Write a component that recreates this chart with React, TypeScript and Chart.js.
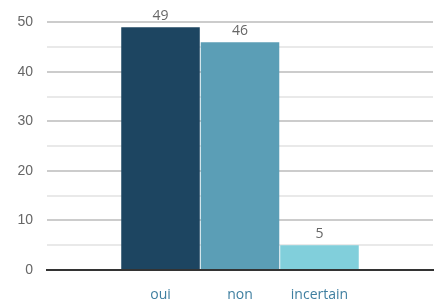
import React, { useEffect, useRef } from "react";
import { Chart, registerables } from "chart.js";

Chart.register(...registerables);

const categories = ["oui", "non", "incertain"];
const values = [49, 46, 5];
const barColors = ["#1d4561", "#5b9eb6", "#81cfdb"];
const yTicks = [0, 10, 20, 30, 40, 50];

const valueLabels = {
  id: "valueLabels",
  afterDatasetsDraw(chart: any) {
    const ctx = chart.ctx;
    const meta = chart.getDatasetMeta(0);
    ctx.save();
    ctx.font = "14px 'Open Sans'";
    ctx.fillStyle = "#666666";
    ctx.textAlign = "center";
    ctx.textBaseline = "bottom";
    meta.data.forEach((bar: any, i: number) => {
      ctx.fillText(String(values[i]), bar.x, bar.y - 4);
    });
    ctx.restore();
  },
};

export default function App() {
  const ref = useRef<HTMLCanvasElement | null>(null);
  useEffect(() => {
    if (!ref.current) return;
    const chart = new Chart(ref.current, {
      type: "bar",
      data: {
        datasets: [
          {
            data: values.map((v, i) => ({ x: i + 1, y: v })),
            backgroundColor: barColors,
            borderWidth: 0,
            categoryPercentage: 1,
            barPercentage: 0.988,
          },
        ],
      },
      options: {
        animation: false,
        responsive: false,
        maintainAspectRatio: false,
        layout: { padding: { top: 21, right: 9, left: 0, bottom: 0 } },
        plugins: { legend: { display: false }, tooltip: { enabled: false } },
        scales: {
          x: {
            type: "linear",
            offset: false,
            bounds: "data",
            min: -0.428,
            max: 4.428,
            grid: { display: false, drawTicks: false, offset: false },
            border: { display: true, color: "#333333", width: 2 },
            afterBuildTicks: (scale: any) => {
              scale.ticks = categories.map((_, i) => ({ value: i + 1 }));
            },
            afterFit: (scale: any) => {
              scale.height = 34;
            },
            ticks: {
              autoSkip: false,
              maxRotation: 0,
              padding: 17,
              color: "#3f7fa0",
              font: { family: "'Open Sans'", size: 14 },
              callback: (v: any) => categories[Number(v) - 1] ?? "",
            },
          },
          y: {
            min: yTicks[0],
            max: yTicks[yTicks.length - 1],
            border: { display: false },
            afterFit: (scale: any) => {
              scale.width = 47;
            },
            grid: {
              drawTicks: false,
              lineWidth: 2,
              color: (c: any) =>
                c.tick && c.tick.value % 10 === 0 ? "#cccccc" : "#e9e9e9",
            },
            ticks: {
              stepSize: 5,
              padding: 14,
              color: "#666666",
              font: { family: "'Liberation Sans'", size: 14 },
              callback: (v: any) => (yTicks.includes(Number(v)) ? String(v) : ""),
            },
          },
        },
      },
      plugins: [valueLabels],
    });
    return () => chart.destroy();
  }, []);
  return (
    <div style={{ position: "fixed", left: 0, top: 0, width: 442, height: 304, background: "#fff" }}>
      <canvas ref={ref} width={442} height={304} style={{ display: "block", width: 442, height: 304 }} />
    </div>
  );
}
